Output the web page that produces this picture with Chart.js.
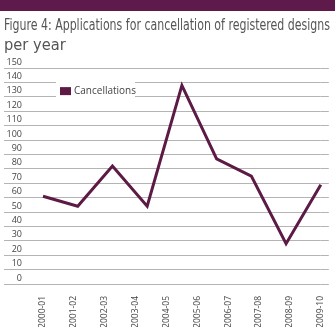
<!DOCTYPE html>
<html>
<head>
<meta charset="utf-8">
<script src="https://cdn.jsdelivr.net/npm/chart.js@4"></script>
<style>
  html, body { margin: 0; padding: 0; background: #fff; }
  #bar { height: 11px; background: #5e1a4a; }
  #wrap { position: relative; width: 335px; height: 320px; }
</style>
</head>
<body>
<div id="bar"></div>
<div id="wrap"><canvas id="chart"></canvas></div>
<script>
const years = ["2000-01", "2001-02", "2002-03", "2003-04", "2004-05",
  "2005-06", "2006-07", "2007-08", "2008-09", "2009-10"];
const cancellations = [61, 54, 82, 54, 138, 87, 75, 28, 69];
// the series has one value fewer than the year labels, so it gets its own slots
const slots = cancellations.map((v, i) => String(i));
const yTicks = [0, 10, 20, 30, 40, 50, 60, 70, 80, 90, 100, 110, 120, 130, 140, 150];

const plum = "#5c1a45";
const gridGray = "#b4b4b4";

// boxed legend sitting inside the plot
const boxLegend = {
  id: "boxLegend",
  afterDraw(chart) {
    const ctx = chart.ctx;
    const a = chart.chartArea;
    const ds = chart.data.datasets[0];
    const x = a.left + 13;
    const y = a.top + 9;
    ctx.save();
    ctx.fillStyle = "#fff";
    ctx.fillRect(x, y, 79, 20);
    ctx.fillStyle = ds.borderColor;
    ctx.fillRect(x + 4, y + 10, 11, 8);
    ctx.fillStyle = "#444";
    ctx.font = "10px 'Open Sans'";
    ctx.textBaseline = "middle";
    ctx.fillText(ds.label, x + 18, y + 14);
    ctx.restore();
  }
};

new Chart(document.getElementById("chart"), {
  type: "line",
  data: {
    labels: years,
    datasets: [{
      label: "Cancellations",
      data: cancellations,
      xAxisID: "xs",
      borderColor: plum,
      backgroundColor: plum,
      borderWidth: 3,
      pointRadius: 0,
      tension: 0,
      fill: false
    }]
  },
  options: {
    responsive: true,
    maintainAspectRatio: false,
    animation: false,
    layout: { padding: { left: 4, right: 5, top: 0, bottom: 4 } },
    plugins: {
      legend: { display: false },
      tooltip: { enabled: false },
      title: {
        display: true,
        text: ["Figure 4: Applications for cancellation of registered designs", "per year"],
        align: "start",
        color: "#555",
        font: { family: "'Liberation Sans Narrow', 'DejaVu Sans Condensed'", size: 16.3, weight: "normal" },
        lineHeight: 1.19,
        padding: { top: 5, bottom: 13 }
      }
    },
    scales: {
      x: {
        type: "category",
        offset: false,
        afterFit: (axis) => { axis.height = 43; },
        grid: { display: false },
        border: { display: false },
        ticks: {
          minRotation: 90,
          maxRotation: 90,
          padding: 4,
          color: "#444",
          font: { family: "'Open Sans'", size: 8.5 }
        }
      },
      xs: {
        type: "category",
        labels: slots,
        offset: false,
        display: false
      },
      y: {
        min: 0,
        max: 150,
        afterBuildTicks: (axis) => { axis.ticks = yTicks.map(v => ({ value: v })); },
        afterFit: (axis) => { axis.width = 39; },
        border: { display: false },
        grid: { color: gridGray, lineWidth: 1, tickLength: 39 },
        ticks: {
          padding: -18,
          labelOffset: -6,
          color: "#444",
          font: { family: "'Open Sans'", size: 9 }
        }
      },
      yr: {
        position: "right",
        min: 0,
        max: 150,
        afterBuildTicks: (axis) => { axis.ticks = yTicks.map(v => ({ value: v })); },
        border: { display: false },
        grid: { color: gridGray, lineWidth: 1, tickLength: 8, drawOnChartArea: false },
        ticks: { display: false }
      }
    }
  },
  plugins: [boxLegend]
});
</script>
</body>
</html>
